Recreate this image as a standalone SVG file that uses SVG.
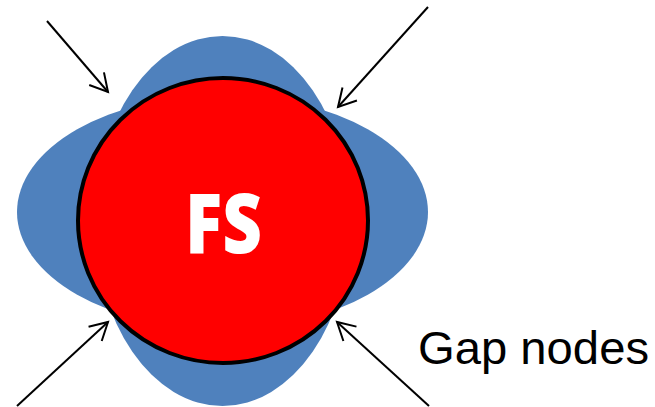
<svg xmlns="http://www.w3.org/2000/svg" width="655" height="407" viewBox="0 0 655 407">
  <style>
    .lobe { fill: #4F81BD; }
    .core { fill: #FF0000; stroke: #000000; stroke-width: 4; }
    .arrow { stroke: #000000; stroke-width: 2; fill: none; marker-end: url(#open-head); }
    .fs { font-family: "Open Sans", "Noto Sans", sans-serif; font-weight: 800; font-size: 84px; fill: #FFFFFF; }
    .label { font-family: "Liberation Sans", Arial, sans-serif; font-size: 46px; fill: #000000; }
  </style>
  <defs>
    <marker id="open-head" markerUnits="userSpaceOnUse" viewBox="-20 -12 22 24" markerWidth="22" markerHeight="24" refX="0" refY="0" orient="auto" overflow="visible">
      <path d="M -17.5 -9.7 L 0 0 L -17.5 9.7" fill="none" stroke="#000000" stroke-width="2" stroke-linejoin="miter"/>
    </marker>
  </defs>

  <!-- four-lobed halo behind the circle -->
  <g id="halo">
    <ellipse class="lobe" cx="222.5" cy="212" rx="205.5" ry="117"/>
    <ellipse class="lobe" cx="222.5" cy="221" rx="127.5" ry="185"/>
  </g>

  <!-- central FS circle -->
  <g id="fs-node">
    <ellipse class="core" cx="223" cy="220.5" rx="145" ry="142.5"/>
    <text class="fs" x="223.5" y="253" text-anchor="middle" textLength="77" lengthAdjust="spacingAndGlyphs">FS</text>
  </g>

  <!-- arrows pointing at the gaps -->
  <g id="connectors">
    <line class="arrow" x1="47" y1="21" x2="108" y2="92"/>
    <line class="arrow" x1="428" y1="7" x2="338" y2="107"/>
    <line class="arrow" x1="17" y1="406" x2="108" y2="322"/>
    <line class="arrow" x1="429" y1="406" x2="337" y2="322"/>
  </g>

  <g id="gap-label">
    <text class="label" x="418" y="364" textLength="231" lengthAdjust="spacingAndGlyphs">Gap nodes</text>
  </g>
</svg>
